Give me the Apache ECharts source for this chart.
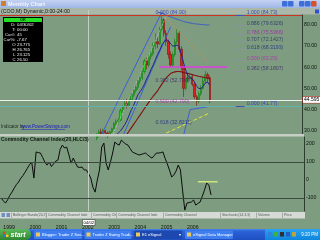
<!DOCTYPE html>
<html><head><meta charset="utf-8">
<script src="https://cdn.jsdelivr.net/npm/echarts@6/dist/echarts.min.js"></script>
<style>html,body{margin:0;padding:0;background:#7d9c80;overflow:hidden}#c{width:320px;height:240px}</style>
</head><body><div id="c"></div>
<script>
// ---- categories (monthly, Dec 1998 onward) ----
const firstYear = 1998, firstMonth = 12, monthCount = 139;
const months = [];
for (let i = 0; i < monthCount; i++) {
  const m = (firstMonth - 1 + i) % 12 + 1;
  const y = firstYear + Math.floor((firstMonth - 1 + i) / 12);
  months.push(y + '-' + String(m).padStart(2, '0'));
}
const yearTicks = ['1999','2000','2001','2002','2003','2004','2005','2006'];
// ---- price (monthly OHLC, starting Aug 2002 = index 44) ----
const priceStart = 44;
const priceOpen  = [26.5,28.0,29.5,28.5,30.0,29.0,28.0,29.5,31.0,33.5,34.5,35.0,39.5,41.0,43.0,42.0,44.5,47.0,49.0,50.5,53.5,55.0,58.0,63.0,61.0,65.0,66.5,70.0,72.0,71.0,78.0,82.5,76.0,72.0,66.0,61.0,66.0,72.0,76.0,68.5,60.0,50.0,55.0,54.5,55.5,52.0,46.0,44.0,47.5,50.0,53.5,56.5,55.0];
const priceHigh  = [29.0,30.5,31.0,31.0,30.5,29.5,30.0,31.5,34.0,35.5,36.0,40.5,42.0,44.0,45.0,46.0,48.0,50.5,52.0,54.5,56.5,59.5,64.0,64.5,66.0,68.0,71.5,76.0,74.0,79.0,84.9,83.0,77.5,73.0,67.5,67.0,73.5,78.0,77.0,70.0,61.0,56.5,57.5,57.0,56.5,53.0,47.0,48.5,51.5,55.0,58.2,57.5,56.0];
const priceLow   = [25.5,27.0,27.5,28.0,27.5,26.5,27.5,29.0,30.5,32.5,33.0,34.5,38.5,40.0,40.5,41.5,44.0,46.0,48.0,49.5,52.0,54.0,57.0,59.0,60.0,63.5,65.5,68.5,69.0,70.5,77.0,74.5,70.0,64.0,60.0,60.0,65.0,71.0,67.0,58.5,46.0,49.0,53.0,53.5,51.0,45.0,41.77,43.0,46.5,49.5,52.5,53.0,43.0];
const priceClose = [28.0,29.5,28.5,30.0,29.0,28.0,29.5,31.0,33.5,34.5,35.0,39.5,41.0,43.0,42.0,44.5,47.0,49.0,50.5,53.5,55.0,58.0,63.0,61.0,65.0,66.5,70.0,72.0,71.0,78.0,82.5,76.0,72.0,66.0,61.0,66.0,72.0,76.0,68.5,60.0,50.0,55.0,54.5,55.5,52.0,46.0,44.0,47.5,50.0,53.5,56.5,55.0,44.595];
// overlays
const navyStart = 53;
const navyLine = [28,29,30,31.5,33,35,37.5,40,42,44.5,47,48.5,50,52,54.5,56.5,59,61,63.5,66,68,70.5,72,73,72.5,71,70,70,70.5,69.5,66,62,58.5,56,55,54.5,53,51,50,50,51,52.5,53,51.5];
const redStart = 57;
const redLine = [27,28.5,30,31.5,33,34.5,36,37.5,39,40.5,42,43.5,45,46.3,47.5,48.8,50.5,52,53.5,55,56,57,57.5,57.8,58,58,57.8,57.5,57.2,57,56.8,56.5,56.2,56,55.7,55.5,55.3,55,54.8,54.5];
const upperCurve = [[72,86],[74,85.5],[76,84.5],[78,83.8],[80,83],[82,82.3],[84,81.6],[86,81.1],[88,80.7],[90,80.4],[92,80.2],[94,80],[96,79.9]];
const channelA = [[45,25.7],[74,86]];
const channelB = [[55,25],[78,79]];
const channelMid = [[50,25],[76,84]];
const orangeDots = [[76,83.5],[95,62.5]];
const yellowDash = [[76,28.9],[96,38.4]];
const blueLower = [[84,28],[87,40],[96,41.5]];
const magentaLevel = [[73,60.1],[104,60.1]];
// fibonacci labels
const fibRightRatios = ['1.000','0.886','0.786','0.707','0.618','0.500','0.382','0.000'];
const fibRightValues = ['84.73','79.6326','75.5366','72.1427','68.3193','63.25','58.1807','41.77'];
const fibRightColors = ['#2233b0','#232a66','#a020a8','#2a2f5e','#1c2a80','#b02cb0','#3c2466','#2233c0'];
const fibLeftRatios = ['0.000','0.382','0.500','0.618'];
const fibLeftValues = ['84.90','52.790','42.790','32.8211'];
const fibLeftColors = ['#2233c0','#3c2466','#b02cb0','#1c2a80'];
// ---- CCI(20,HLC/3), Dec 1998 .. Dec 2006 ----
const cciValues = [-100,-115,-128,-110,-85,-67,-45,-25,-11,10,25,44,65,85,100,11,156,152,150,125,100,83,100,75,90,105,111,170,194,178,183,140,94,122,95,72,70,72,56,56,35,11,-40,-67,0,56,183,205,94,56,100,150,211,200,194,222,210,200,194,175,156,150,145,139,142,146,150,140,130,122,135,150,150,152,156,120,90,55,17,28,50,83,56,-60,-167,-128,-125,-122,-111,-139,-130,-122,-90,-56,-17,-28,-83];
const cciYellow = [[90,-9],[99,-9]];
const priceTicks = [30,40,50,60,70,80];
const cciTicks = [200,100,0,-100];
const lastPrice = 44.595, lastCci = -83, cursorMonth = '2002-04';

const candleData = months.slice(0, 97).map((_, i) => {
  const k = i - priceStart;
  return (k >= 0 && k < priceOpen.length) ? [priceOpen[k], priceClose[k], priceLow[k], priceHigh[k]] : '-';
});
const offsetSeries = (start, arr) => arr.map((v, i) => [start + i, v]);
const FONT = 'Liberation Sans';
const simpleLine = (data, color, width, type, extra) => Object.assign({
  type: 'line', xAxisIndex: 0, yAxisIndex: 0, data: data, showSymbol: false, symbol: 'none',
  silent: true, clip: true, animation: false,
  lineStyle: { color: color, width: width, type: type || 'solid' }
}, extra || {});

const chart = echarts.init(document.getElementById('c'), null, { width: 320, height: 240 });

const G = [];
const rect = (x, y, w, h, fill, extra) => G.push(Object.assign({ type: 'rect', shape: { x, y, width: w, height: h }, style: { fill }, z: 100, silent: true }, extra || {}));
const txt = (x, y, text, fill, size, opts) => G.push({ type: 'text', z: 101, silent: true, style: Object.assign({ x, y, text, fill, font: (opts && opts.weight ? opts.weight + ' ' : '') + size + 'px "' + FONT + '"', textAlign: (opts && opts.align) || 'left', textVerticalAlign: 'middle' }, (opts && opts.style) || {}) });

// title bar
rect(0, 0, 320, 8, new echarts.graphic.LinearGradient(0, 0, 0, 1, [{ offset: 0, color: '#c2d2f2' }, { offset: 1, color: '#9fb6e6' }]));
rect(1, 1, 5, 5, '#d08030');
txt(8, 4, 'Monthly Chart', '#f4f6ff', 5.5, { weight: 'bold' });
[[282, '#3d6fd8'], [288, '#3d6fd8'], [299, '#3d6fd8'], [305, '#3d6fd8'], [311, '#d8502c']].forEach(b => rect(b[0], 1, 5.5, 5.5, b[1], { shape: { x: b[0], y: 1, width: 5.5, height: 5.5, r: 1 } }));
// header strip (below series so the top fib labels stay visible)
rect(0, 8, 320, 6.5, '#a9b8a9', { z: 1 });
txt(1, 11.3, '(COO,M) Dynamic,0:00-24:00', '#101010', 5.2);
rect(315, 9.5, 4, 4, '#3050d0');
// info box
rect(3, 17, 40, 45, '#000000');
rect(4, 18, 38, 4, '#22e022');
txt(23, 20.1, 'OK', '#0a300a', 4, { align: 'center', weight: 'bold' });
const infoLabels = ['D:', 'T:', 'Cur#:', 'Cur%:', 'O', 'H', 'L', 'C'];
const infoValues = ['04/30/02', '00:00', '45', '-7.67', '23.775', '26.765', '23.125', '26.50'];
infoLabels.forEach((l, i) => {
  const y = 24.5 + i * 5.1;
  txt(15.5, y, l, '#f0f0f0', 4.3, { align: 'right' });
  txt(17, y, infoValues[i], '#f0f0f0', 4.3);
});
// indicator credit + separator
txt(1, 127, 'Indicator by', '#1e2a1e', 4.6);
txt(21, 127, 'www.PowerSwings.com', '#1a1ac8', 4.6);
G.push({ type: 'line', z: 101, silent: true, shape: { x1: 21, y1: 129.5, x2: 65, y2: 129.5 }, style: { stroke: '#1a1ac8', lineWidth: 0.5 } });
rect(0, 134, 304, 2.5, '#c6cec6');
txt(1, 139.5, 'Commodity Channel Index(20,HLC/3)', '#101810', 5, { weight: 'bold' });
// tab bar
rect(0, 212, 305, 6.5, '#d6dad6');
rect(1.5, 213, 3.5, 4, '#7090c0');
rect(6.5, 213, 3.5, 4, '#7090c0');
const tabs = [[13, 'Bollinger Bands(20,2)'], [48, 'Commodity Channel Inde'], [93, 'Commodity Ch'], [118, 'Commodity Channel Inde'], [165, 'Commodity Channel'], [222, 'Stochastic(14,3,3)'], [258, 'Volume'], [284, 'Price']];
tabs.forEach(t => {
  txt(t[0], 215.2, t[1], '#556055', 3.5);
  G.push({ type: 'line', z: 101, silent: true, shape: { x1: t[0] - 1.5, y1: 212.5, x2: t[0] - 1.5, y2: 218 }, style: { stroke: '#8a928a', lineWidth: 0.6 } });
});
// cursor date box
rect(82.5, 219.5, 12.5, 6, '#ffffff', { style: { fill: '#ffffff', stroke: '#202020', lineWidth: 0.5 } });
txt(88.8, 222.6, '04/02', '#000000', 4.3, { align: 'center' });
// taskbar
rect(0, 229, 320, 11, new echarts.graphic.LinearGradient(0, 0, 0, 1, [{ offset: 0, color: '#4a86ec' }, { offset: 0.2, color: '#2a62d8' }, { offset: 1, color: '#1f4fc0' }]));
G.push({ type: 'rect', z: 100, silent: true, shape: { x: 0, y: 229, width: 31, height: 11, r: [0, 5, 5, 0] }, style: { fill: new echarts.graphic.LinearGradient(0, 0, 0, 1, [{ offset: 0, color: '#5cb85c' }, { offset: 1, color: '#2e862e' }]) } });
rect(3, 231.5, 2.5, 2.5, '#f04020'); rect(6, 231.5, 2.5, 2.5, '#40c040');
rect(3, 234.5, 2.5, 2.5, '#3070f0'); rect(6, 234.5, 2.5, 2.5, '#f0d020');
txt(10.5, 234.6, 'start', '#ffffff', 7, { weight: 'bold italic' });
const taskButtons = [[34, 48, 'Blogger: Trader Z Swi...', '#3d7df0'], [84.5, 47, 'Trader Z Swing Tradi...', '#3d7df0'], [134, 48, 'E1 eSignal', '#1c48b0'], [185, 48, 'eSignal Data Manager', '#3d7df0']];
taskButtons.forEach(b => {
  G.push({ type: 'rect', z: 100, silent: true, shape: { x: b[0], y: 230.5, width: b[1], height: 8.5, r: 1 }, style: { fill: b[3] } });
  rect(b[0] + 2, 232.5, 4, 4, '#e8c860');
  txt(b[0] + 8, 234.8, b[2], '#ffffff', 4);
});
txt(179, 234.8, '▾', '#ffffff', 4);
rect(265, 229, 55, 11, new echarts.graphic.LinearGradient(0, 0, 0, 1, [{ offset: 0, color: '#2aa0f0' }, { offset: 1, color: '#0c86dc' }]));
[[268, '#3080e0'], [274, '#40b040'], [280, '#303030'], [286, '#2060c0'], [292, '#c0a040']].forEach(ic => rect(ic[0], 232, 4, 4.5, ic[1]));
txt(318, 234.6, '9:20 PM', '#ffffff', 4.5, { align: 'right' });

const axisLabelStyle = { fontSize: 5.2, color: '#0e160e', fontFamily: FONT };

const option = {
  animation: false,
  backgroundColor: '#7d9c80',
  grid: [
    { left: 0, right: 16, top: 10, height: 125 },
    { left: 0, right: 16, top: 137, height: 74 }
  ],
  xAxis: [
    { type: 'category', gridIndex: 0, data: months, boundaryGap: true, axisLine: { show: false }, axisTick: { show: false }, axisLabel: { show: false }, splitLine: { show: false } },
    { type: 'category', gridIndex: 1, data: months, boundaryGap: true, axisLine: { show: false }, axisTick: { show: false }, splitLine: { show: false },
      axisLabel: Object.assign({}, axisLabelStyle, { fontSize: 5.2, margin: 14, align: 'left', hideOverlap: false,
        interval: (i, v) => v.endsWith('-01') && yearTicks.includes(v.slice(0, 4)),
        formatter: v => v.slice(0, 4) }) }
  ],
  yAxis: [
    { type: 'value', gridIndex: 0, position: 'right', min: 28, max: 87, splitLine: { show: false }, axisTick: { show: false },
      axisLine: { show: true, lineStyle: { color: '#2c3c2e', width: 1 } },
      axisLabel: Object.assign({}, axisLabelStyle, { margin: 2, customValues: priceTicks, formatter: v => v.toFixed(2) }) },
    { type: 'value', gridIndex: 1, position: 'right', min: -172, max: 239, splitLine: { show: false }, axisTick: { show: false },
      axisLine: { show: true, lineStyle: { color: '#2c3c2e', width: 1 } },
      axisLabel: Object.assign({}, axisLabelStyle, { margin: 2, customValues: cciTicks, formatter: v => String(v) }) }
  ],
  graphic: { elements: G },
  series: [
    { type: 'line', xAxisIndex: 0, yAxisIndex: 0, data: [], silent: true,
      markLine: { silent: true, symbol: 'none', animation: false, label: { show: false },
        data: [
          { xAxis: cursorMonth, lineStyle: { color: '#c4ccc4', width: 1, type: 'solid' } },
          { yAxis: 84.73, lineStyle: { color: '#cc3322', width: 1, type: 'solid' } },
          { yAxis: 41.77, lineStyle: { color: '#5fb5ad', width: 1, type: 'solid' } },
          { yAxis: lastPrice, lineStyle: { color: '#eef2ee', width: 1, type: 'solid' },
            label: { show: true, position: 'end', distance: 1, formatter: String(lastPrice), fontSize: 5, fontFamily: FONT, color: '#000', backgroundColor: '#ffffff', padding: [0.5, 1], borderColor: '#c02020', borderWidth: 0.5 } }
        ] } },
    simpleLine(channelMid, '#d4d8d4', 0.8, 'dotted'),
    simpleLine(channelA, '#3d5fd6', 1),
    simpleLine(channelB, '#3d5fd6', 1),
    simpleLine(offsetSeries(redStart, redLine), '#7e1010', 1.1),
    simpleLine(offsetSeries(navyStart, navyLine), '#1c2490', 1),
    simpleLine(upperCurve, '#3f5cc8', 1, 'solid', { smooth: true }),
    simpleLine(orangeDots, '#e0884a', 1, 'dotted'),
    simpleLine(magentaLevel, '#e23ee0', 1.5),
    simpleLine(yellowDash, '#e8e23c', 1, 'dashed'),
    simpleLine(blueLower, '#4060d8', 1),
    { type: 'candlestick', xAxisIndex: 0, yAxisIndex: 0, data: candleData, barWidth: '80%', silent: true, clip: true,
      itemStyle: { color: '#1ed21e', color0: '#e41c1c', borderColor: '#0f7a0f', borderColor0: '#8a0c0c', borderWidth: 0.6 } },
    { type: 'scatter', xAxisIndex: 0, yAxisIndex: 0, symbolSize: 0.1, silent: true, z: 20, itemStyle: { color: 'transparent' },
      data: fibRightValues.map((v, i) => ({ value: [113, parseFloat(v)], label: { color: fibRightColors[i] } })),
      label: { show: true, position: 'right', distance: 0, offset: [0, -2], fontSize: 5.2, fontFamily: FONT,
        formatter: p => fibRightRatios[p.dataIndex] + ' (' + fibRightValues[p.dataIndex] + ')' },
      markLine: { silent: true, symbol: 'none', label: { show: false }, animation: false,
        data: fibRightValues.map((v, i) => [{ coord: [108, parseFloat(v)], lineStyle: { color: i === 0 || i === 7 ? '#4450b8' : '#8c90a0', width: 1, type: 'solid' } }, { coord: [112, parseFloat(v)] }]) } },
    { type: 'scatter', xAxisIndex: 0, yAxisIndex: 0, symbolSize: 0.1, silent: true, z: 20, itemStyle: { color: 'transparent' },
      data: fibLeftValues.map((v, i) => ({ value: [72, parseFloat(v)], label: { color: fibLeftColors[i] } })),
      label: { show: true, position: 'right', distance: 0, offset: [-2, -2], fontSize: 5.2, fontFamily: FONT,
        formatter: p => fibLeftRatios[p.dataIndex] + ' (' + fibLeftValues[p.dataIndex] + ')' } },
    { type: 'line', xAxisIndex: 1, yAxisIndex: 1, data: cciValues, showSymbol: false, symbol: 'none', silent: true,
      lineStyle: { color: '#0c0c0c', width: 1 },
      markLine: { silent: true, symbol: 'none', animation: false, label: { show: false },
        data: [
          { xAxis: cursorMonth, lineStyle: { color: '#c4ccc4', width: 1, type: 'solid' } },
          { yAxis: 100, lineStyle: { color: '#3a4a3c', width: 1, type: 'solid' } },
          { yAxis: -100, lineStyle: { color: '#3a4a3c', width: 1, type: 'solid' } },
          { yAxis: lastCci, lineStyle: { opacity: 0 },
            label: { show: true, position: 'end', distance: 2, formatter: String(lastCci) + '.4', fontSize: 5, fontFamily: FONT, color: '#ffffff', backgroundColor: '#000000', padding: [0.5, 1] } }
        ] } },
    { type: 'line', xAxisIndex: 1, yAxisIndex: 1, data: cciYellow, showSymbol: false, symbol: 'none', silent: true,
      lineStyle: { color: '#cfe67a', width: 1.5 } }
  ]
};
chart.setOption(option);
</script>
</body></html>
